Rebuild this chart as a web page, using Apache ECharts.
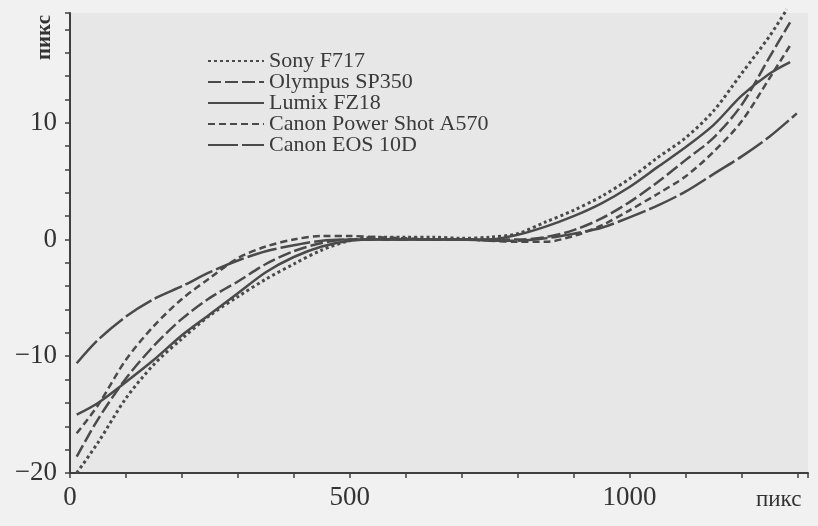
<!DOCTYPE html>
<html>
<head>
<meta charset="utf-8">
<script src="https://cdn.jsdelivr.net/npm/echarts@6/dist/echarts.min.js"></script>
<style>
  * { margin: 0; padding: 0; }
  #chart { width: 818px; height: 526px; }
</style>
</head>
<body>
<div id="chart"></div>
<script>
// shared x positions (пикс)
const xs = [12, 50, 100, 150, 200, 250, 300, 350, 400, 450, 500, 550, 600, 650,
  700, 750, 800, 850, 900, 950, 1000, 1050, 1100, 1150, 1200, 1250];

const names = ["Sony F717", "Olympus SP350", "Lumix FZ18", "Canon Power Shot A570", "Canon EOS 10D"];

const sonyY = [-20.0, -17.4, -13.6, -10.7, -8.5, -6.5, -4.9, -3.4, -2.1, -0.9, -0.1, 0.2, 0.2, 0.2,
  0.1, 0.2, 0.5, 1.5, 2.5, 3.7, 5.2, 7.0, 8.7, 11.0, 14.2, 17.4];
const olympusY = [-18.6, -15.4, -11.9, -9.1, -6.8, -5.0, -3.6, -2.1, -1.0, -0.3, 0.0, 0.0, 0.0, 0.0,
  0.0, 0.0, 0.0, 0.2, 0.8, 1.8, 3.2, 4.9, 6.8, 8.7, 11.5, 15.6];
const lumixY = [-15.0, -14.0, -12.2, -10.3, -8.2, -6.4, -4.6, -2.8, -1.5, -0.6, -0.1, 0.0, 0.0, 0.0,
  0.0, 0.0, 0.4, 1.1, 2.0, 3.1, 4.5, 6.2, 7.9, 9.8, 12.3, 14.2];
const a570Y = [-16.6, -14.2, -10.3, -7.4, -5.1, -3.3, -1.6, -0.6, 0.0, 0.3, 0.3, 0.2, 0.1, 0.0,
  0.0, -0.1, -0.2, -0.2, 0.3, 1.2, 2.5, 3.9, 5.4, 7.5, 10.1, 13.8];
const eosY = [-10.6, -8.6, -6.6, -5.1, -4.0, -2.8, -1.8, -1.0, -0.5, -0.1, 0.0, 0.0, 0.0, 0.0,
  0.0, -0.1, -0.1, 0.1, 0.5, 1.0, 1.9, 2.9, 4.1, 5.6, 7.1, 8.8];

// last point of each curve, same order as names
const endX = [1281, 1287, 1287, 1288, 1299];
const endY = [19.7, 18.6, 15.2, 16.7, 10.8];

const allY = [sonyY, olympusY, lumixY, a570Y, eosY];
const dashes = [[3, 3], [13, 4], "solid", [7, 4], [30, 4]];
const widths = [3, 2.5, 2.5, 2.5, 2.5];

const lineColor = "#4a4a4a";
const serif = "Liberation Serif";

const series = names.map((name, i) => {
  const data = xs.map((x, j) => [x, allY[i][j]]);
  data.push([endX[i], endY[i]]);
  return {
    name: name,
    type: "line",
    data: data,
    smooth: 0.3,
    symbol: "none",
    clip: false,
    lineStyle: { color: lineColor, width: widths[i], type: dashes[i], cap: "butt" },
    itemStyle: { color: lineColor },
  };
});

const chart = echarts.init(document.getElementById("chart"), null, { renderer: "canvas" });

chart.setOption({
  backgroundColor: "#f1f1f1",
  animation: false,
  grid: {
    left: 70, right: 10, top: 13, bottom: 53,
    show: true, backgroundColor: "#e7e7e7", borderWidth: 0,
  },
  legend: {
    orient: "vertical",
    left: 202, top: 45,
    itemWidth: 56, itemHeight: 12, itemGap: -1,
    itemStyle: { opacity: 0 },
    textStyle: { fontFamily: serif, fontSize: 22, color: "#3a3a3a" },
    data: names,
  },
  xAxis: {
    type: "value",
    min: 0, max: 1319, interval: 100,
    axisLine: { onZero: false, lineStyle: { color: "#3f3f3f", width: 2 } },
    axisTick: { length: 5, lineStyle: { color: "#3f3f3f", width: 1.5 } },
    axisLabel: {
      margin: 11, fontFamily: serif, fontSize: 27, color: "#333",
      formatter: v => (v % 500 === 0 ? String(v) : ""),
    },
    splitLine: { show: false },
  },
  yAxis: {
    type: "value",
    min: -20, max: 19.4, interval: 2,
    axisLine: { show: true, lineStyle: { color: "#3f3f3f", width: 2 } },
    axisTick: { show: true, length: 5, lineStyle: { color: "#3f3f3f", width: 1.5 } },
    axisLabel: {
      margin: 13, fontFamily: serif, fontSize: 27, color: "#333",
      formatter: v => (v % 10 === 0 ? String(v).replace("-", "\u2212") : ""),
    },
    splitLine: { show: false },
  },
  graphic: [
    {
      type: "text", left: 34, top: 15, rotation: Math.PI / 2,
      style: { text: "пикс", font: "bold 21px " + serif, fill: "#333" },
    },
    {
      type: "text", left: 756, top: 488,
      style: { text: "пикс", font: "23px " + serif, fill: "#333" },
    },
  ],
  series: series,
});

window.addEventListener("resize", chart.resize);
</script>
</body>
</html>
